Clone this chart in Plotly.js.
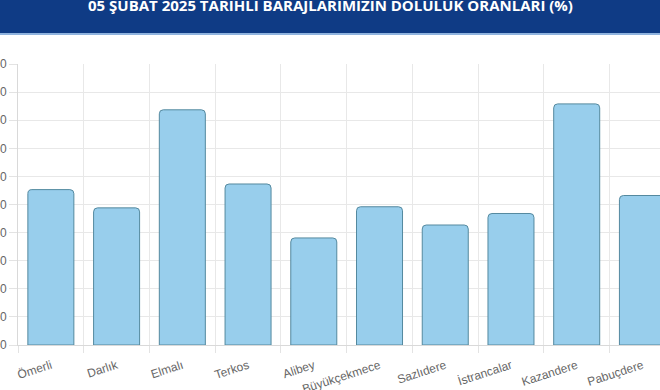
<!DOCTYPE html>
<html>
<head>
<meta charset="utf-8">
<script src="https://cdn.plot.ly/plotly-3.0.1.min.js"></script>
<style>
html,body{margin:0;padding:0;background:#fff;}
#chart{width:660px;height:390px;}
</style>
</head>
<body>
<div id="chart"></div>
<script>
const titleText = "05 ŞUBAT 2025 TARİHLİ BARAJLARIMIZIN DOLULUK ORANLARI (%)";
const dams = ["Ömerli","Darlık","Elmalı","Terkos","Alibey","Büyükçekmece","Sazlıdere","İstrancalar","Kazandere","Pabuçdere"];
const fillRates = [55.3, 48.8, 83.7, 57.3, 38.1, 49.2, 42.7, 46.8, 85.8, 53.2];

const W = 660, H = 390;
const mL = 18, mR = 0, mT = 64, mB = 45;
const plotW = W - mL - mR, plotH = H - mT - mB;
const catPx = 65.73;
const xMax = -0.5 + plotW / catPx;

function py(px){ return (H - mB - px) / plotH; }   // pixel y -> paper y
function pxX(px){ return (px - mL) / plotW; }       // pixel x -> paper x

const trace = {
  type: 'bar',
  x: dams,
  y: fillRates,
  width: 0.7,
  marker: {
    color: 'rgba(152,206,236,1)',
    line: {color: '#54899f', width: 1}
  },
  hoverinfo: 'x+y'
};

const layout = {
  width: W, height: H,
  margin: {l: mL, r: mR, t: mT, b: mB, pad: 0},
  paper_bgcolor: '#ffffff',
  plot_bgcolor: '#ffffff',
  showlegend: false,
  barcornerradius: 4,
  font: {family: '"Liberation Sans", Arial, sans-serif', size: 12, color: '#666666'},
  xaxis: {
    type: 'category',
    range: [-0.5, xMax],
    tickson: 'boundaries',
    ticks: 'outside', ticklen: 7, tickcolor: '#e3e3e3', tickwidth: 1,
    showgrid: true, gridcolor: '#e8e8e8', gridwidth: 1,
    showline: true, linecolor: '#d9d9d9', linewidth: 1,
    tickangle: -18,
    ticklabelstandoff: 8,
    tickfont: {size: 12, color: '#666666'},
    automargin: false,
    fixedrange: true
  },
  yaxis: {
    range: [0, 100],
    dtick: 10, tick0: 0,
    ticks: 'outside', ticklen: 8, tickcolor: '#e3e3e3', tickwidth: 1,
    showgrid: true, gridcolor: '#e8e8e8', gridwidth: 1,
    showline: true, linecolor: '#d9d9d9', linewidth: 1,
    zeroline: false,
    tickfont: {size: 12, color: '#666666'},
    automargin: false,
    fixedrange: true
  },
  shapes: [
    {type: 'rect', xref: 'paper', yref: 'paper', layer: 'above',
     x0: pxX(0), x1: pxX(W), y0: py(33), y1: py(-2),
     fillcolor: '#0f3b85', line: {width: 0}},
    {type: 'rect', xref: 'paper', yref: 'paper', layer: 'above',
     x0: pxX(0), x1: pxX(W), y0: py(35), y1: py(33),
     fillcolor: '#8fb3de', line: {width: 0}}
  ],
  annotations: [
    {text: '<b>' + titleText + '</b>', xref: 'paper', yref: 'paper',
     x: pxX(330), y: py(4.5), xanchor: 'center', yanchor: 'middle',
     showarrow: false,
     font: {family: '"Open Sans", "DejaVu Sans", sans-serif', size: 15, color: '#ffffff'}}
  ]
};

Plotly.newPlot('chart', [trace], layout, {displayModeBar: false, staticPlot: true});
</script>
</body>
</html>
